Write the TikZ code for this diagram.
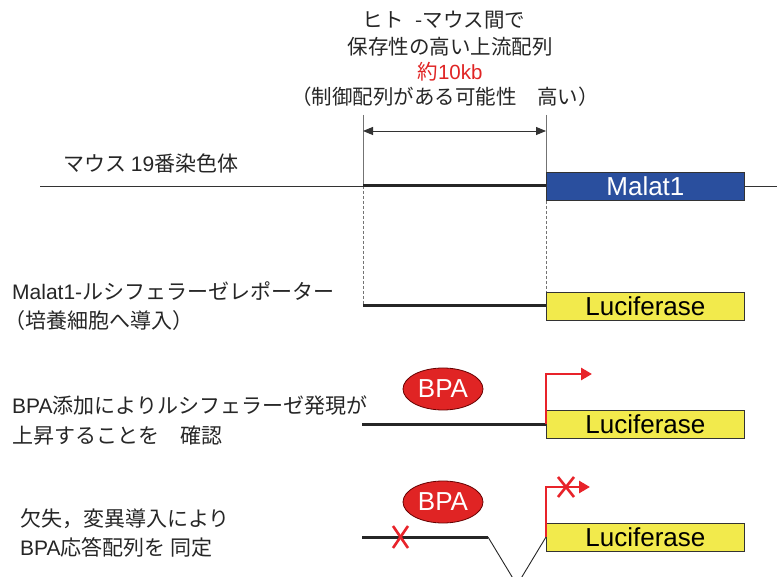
\documentclass[tikz,border=0pt]{standalone}
\usepackage{fontspec}
\setmainfont{Liberation Sans}
\newfontfamily\jp{Noto Sans CJK JP}
\usetikzlibrary{arrows.meta,shapes.geometric}
\definecolor{malatblue}{HTML}{2A4F9E}
\definecolor{lucyellow}{HTML}{F2EA4C}
\definecolor{bparred}{HTML}{E02424}
\definecolor{arrred}{HTML}{E8232A}
\begin{document}
\begin{tikzpicture}[x=1pt,y=-1pt,
  lbl/.style={inner sep=0pt, anchor=west, text=black!85, font=\jp\fontsize{21}{25}\selectfont},
  ttl/.style={inner sep=0pt, text=black!85, font=\jp\fontsize{20.5}{24}\selectfont},
  gene/.style={draw=black!80, line width=0.8pt, minimum width=198pt, minimum height=28pt,
    inner sep=0pt, anchor=west, font=\fontsize{26}{28}\selectfont},
  dna/.style={line width=3pt, black!85},
  guide/.style={line width=0.6pt, black!55},
  guidedash/.style={line width=0.6pt, black!55, dash pattern=on 3pt off 2pt},
  bpa/.style={ellipse, draw=black!60!red, line width=0.8pt, fill=bparred, minimum width=80pt,
    minimum height=42pt, inner sep=0pt, text=white, font=\fontsize{26}{28}\selectfont},
  redarrow/.style={draw=arrred, line width=2.8pt, -{Triangle[length=11pt,width=12pt]}},
  redx/.style={draw=arrred, line width=2.6pt},
]
\clip (0,0) rectangle (777,577);
\fill[white] (0,0) rectangle (777,577);

% ---- top texts
\node[ttl] (t1) at (444,20) {ヒト\hspace{0.6em}-マウス間で};
\node[ttl] (t2) at (450,47) {保存性の高い上流配列};
\node[ttl, text=bparred] (t3) at (450,72) {約{\fontspec{Liberation Sans}10kb}};
\node[ttl] (t4) at (445,97) {（制御配列がある可能性　高い）};

% ---- guides
\coordinate (gA) at (363,115);
\coordinate (gB) at (546,115);
\coordinate (gA1) at (363,186);
\coordinate (gB1) at (546,186);
\coordinate (gA2) at (363,306);
\coordinate (gB2) at (546,306);
\draw[guide] (gA) -- (gA1);
\draw[guide] (gB) -- (gB1);
\draw[guidedash] (gA1) -- (gA2);
\draw[guidedash] (gB1) -- (gB2);
\coordinate (d1) at (363,131);
\coordinate (d2) at (546,131);
\draw[line width=0.9pt, black!80, {Triangle[length=10pt,width=8pt]}-{Triangle[length=10pt,width=8pt]}] (d1) -- (d2);

% ---- row 1: chromosome
\node[lbl] (m1) at (63,164) {マウス {\fontspec{Liberation Sans}19}番染色体};
\coordinate (cL) at (40,186);
\coordinate (cR) at (777,186);
\draw[line width=0.9pt, black!80] (cL) -- (cR);
\node[gene, fill=malatblue, text=white] (malat) at (546,186) {Malat1};
\draw[dna] (gA1) -- (malat.west);

% ---- row 2: reporter
\node[lbl] (r2a) at (12,291) {{\fontspec{Liberation Sans}Malat1-}ルシフェラーゼレポーター};
\node[lbl] (r2b) at (4,321) {（培養細胞へ導入）};
\node[gene, fill=lucyellow] (luc2) at (546,306) {Luciferase};
\draw[dna] (gA2) -- (luc2.west);

% ---- row 3: BPA induction
\node[lbl] (r3a) at (12,406) {{\fontspec{Liberation Sans}BPA}添加によりルシフェラーゼ発現が};
\node[lbl] (r3b) at (12,436) {上昇することを　確認};
\node[bpa] (bpa3) at (443,389) {BPA};
\node[gene, fill=lucyellow] (luc3) at (546,424.5) {Luciferase};
\coordinate (s3) at (362,424.5);
\draw[dna] (s3) -- (luc3.west);
\coordinate (p3a) at (546,374);
\coordinate (p3b) at (592,374);
\draw[redarrow] (luc3.west) -- (p3a) -- (p3b);

% ---- row 4: deletion / mutation
\node[lbl] (r4a) at (20,519) {欠失，変異導入により};
\node[lbl] (r4b) at (20,547) {{\fontspec{Liberation Sans}BPA}応答配列を 同定};
\node[bpa] (bpa4) at (443,502) {BPA};
\node[gene, fill=lucyellow] (luc4) at (546,537) {Luciferase};
\coordinate (s4) at (362,537);
\coordinate (v1) at (488,537);
\coordinate (v2) at (517,585);
\draw[dna] (s4) -- (v1);
\draw[line width=0.9pt, black!85] (v1) -- (v2) -- (luc4.west);
\coordinate (p4a) at (546,487);
\coordinate (p4b) at (590,487);
\draw[redarrow] (luc4.west) -- (p4a) -- (p4b);
% red crosses
\coordinate (x1a) at (393,526); \coordinate (x1b) at (408,548);
\coordinate (x1c) at (393,548); \coordinate (x1d) at (408,526);
\draw[redx] (x1a) -- (x1b);
\draw[redx] (x1c) -- (x1d);
\coordinate (x2a) at (558,477); \coordinate (x2b) at (574,497);
\coordinate (x2c) at (558,497); \coordinate (x2d) at (574,477);
\draw[redx] (x2a) -- (x2b);
\draw[redx] (x2c) -- (x2d);
\end{tikzpicture}
\end{document}
